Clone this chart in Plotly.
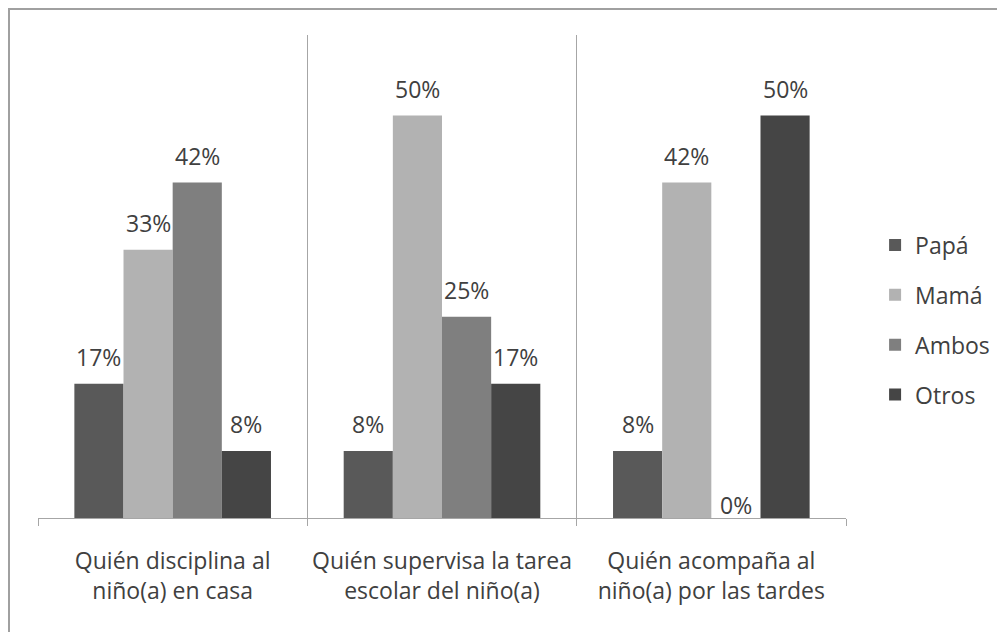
import plotly.graph_objects as go

categories = ["Quién disciplina al<br>niño(a) en casa",
              "Quién supervisa la tarea<br>escolar del niño(a)",
              "Quién acompaña al<br>niño(a) por las tardes"]
series_names = ["Papá", "Mamá", "Ambos", "Otros"]
papa = [0.1667, 0.0833, 0.0833]
mama = [0.3333, 0.5000, 0.4167]
ambos = [0.4167, 0.2500, 0.0000]
otros = [0.0833, 0.1667, 0.5000]
colors = ["#595959", "#b2b2b2", "#7f7f7f", "#454545"]

FONT = "Open Sans, sans-serif"
TXT = "#404040"
FS = 23

W, H = 1005, 632
L, R, T, B = 30, 167, 27, 122
pw, ph = W - L - R, H - T - B
BARGAP = 0.27
bar_px = pw / len(categories) * (1 - BARGAP) / len(series_names)

fig = go.Figure()
annotations = []
for i, (name, vals, col) in enumerate(zip(series_names, [papa, mama, ambos, otros], colors)):
    fig.add_trace(go.Bar(
        x=categories, y=vals, name=name, legendgroup=name,
        marker=dict(color=col, line=dict(width=0)),
    ))
    for c, v in zip(categories, vals):
        annotations.append(dict(
            x=c, y=v, xref="x", yref="y", text=f"{round(v*100)}%",
            showarrow=False, xanchor="center", yanchor="middle",
            xshift=(i - 1.5) * bar_px, yshift=13 if v == 0 else 27,
            font=dict(family=FONT, size=FS, color=TXT),
        ))

bx = (1 - L) / pw
by = 1 + (T - 1) / ph

fig.update_layout(
    width=W, height=H,
    margin=dict(l=L, r=R, t=T, b=B),
    barmode="group", bargap=BARGAP, bargroupgap=0,
    plot_bgcolor="white", paper_bgcolor="white",
    font=dict(family=FONT, size=FS, color=TXT),
    showlegend=True,
    legend=dict(x=1.036, y=0.41, xanchor="left", yanchor="middle",
                font=dict(family=FONT, size=FS, color=TXT),
                tracegroupgap=17, itemwidth=30),
    xaxis=dict(showline=True, linecolor="#a6a6a6", linewidth=1,
               tickson="boundaries", ticks="outside", ticklen=7,
               tickcolor="#a6a6a6", showgrid=True, gridcolor="#a6a6a6",
               gridwidth=1, ticklabelstandoff=22,
               tickfont=dict(family=FONT, size=FS, color=TXT)),
    yaxis=dict(range=[0, 0.6], visible=False, showgrid=False, zeroline=False),
    annotations=annotations,
    shapes=[dict(type="rect", xref="paper", yref="paper",
                 x0=bx, x1=1.5, y0=-0.5, y1=by,
                 line=dict(color="#a0a0a0", width=2), layer="below")],
)

fig.write_html("out.html")
